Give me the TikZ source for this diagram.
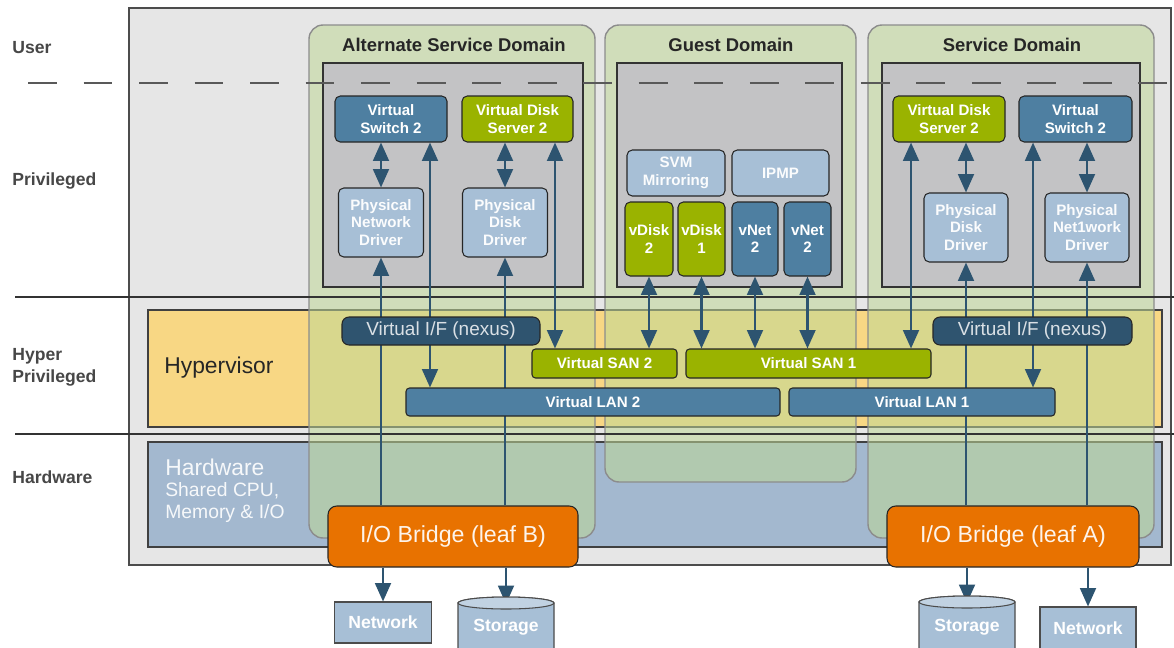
\documentclass[tikz,border=0pt]{standalone}
\usepackage{fontspec}
\setmainfont{Liberation Sans}
\usetikzlibrary{arrows.meta}
\definecolor{panelgray}{HTML}{E6E6E6}
\definecolor{hypyel}{HTML}{F8D784}
\definecolor{hwblue}{HTML}{A3B8CF}
\definecolor{domgreen}{RGB}{190,215,150}
\definecolor{innergray}{HTML}{C3C3C5}
\definecolor{vblue}{HTML}{4E7FA1}
\definecolor{nexblue}{HTML}{2F546F}
\definecolor{vgreen}{HTML}{9AB300}
\definecolor{lblue}{HTML}{A7BFD6}
\definecolor{orng}{HTML}{E87200}
\definecolor{arrblue}{HTML}{2D5470}
\pgfdeclarelayer{bgl}
\pgfdeclarelayer{midl}
\pgfsetlayers{bgl,midl,main}
\begin{document}
\begin{tikzpicture}[x=0.02cm,y=-0.02cm,
  wh/.style 2 args={minimum width=#1*0.02cm, minimum height=#2*0.02cm},
  box/.style={draw=black!85, line width=0.6pt, rounded corners=3pt, inner sep=0pt, align=center, text=white, font=\fontsize{8.6}{10}\selectfont\bfseries},
  bluebox/.style={box, fill=vblue},
  greenbox/.style={box, fill=vgreen},
  lightbox/.style={box, fill=lblue, text=white!96!lblue},
  nexbox/.style={box, fill=nexblue, rounded corners=4pt, text=white!82!nexblue, font=\fontsize{10.8}{12}\selectfont},
  barblue/.style={box, fill=vblue, rounded corners=2pt},
  bargreen/.style={box, fill=vgreen, rounded corners=2pt},
  bridge/.style={box, fill=orng, rounded corners=5pt, font=\fontsize{13.2}{15}\selectfont, text=white!92!orng},
  devbox/.style={draw=black!70, line width=0.6pt, fill=lblue, text=white, inner sep=0pt, font=\fontsize{10}{12}\selectfont\bfseries},
  cylbody/.style={draw=black!70, line width=0.6pt, fill=lblue},
  cyltop/.style={draw=black!70, line width=0.6pt, fill=lblue!70!white},
  stortext/.style={text=white, inner sep=0pt, font=\fontsize{10}{12}\selectfont\bfseries},
  dombox/.style={draw=black!45, line width=0.8pt, fill=domgreen, fill opacity=0.55, rounded corners=8pt},
  innerbox/.style={draw=black!80, line width=0.7pt, fill=innergray},
  title/.style={font=\fontsize{10.5}{12}\selectfont\bfseries, text=black!85},
  lab/.style={font=\fontsize{10}{12.5}\selectfont\bfseries, text=black!72, anchor=west, align=left, inner sep=0pt},
  tip/.tip={Triangle[width=9pt,length=10.5pt]},
  arr/.style={draw=arrblue, line width=1.4pt, -tip},
  darr/.style={draw=arrblue, line width=1.4pt, tip-tip},
]
\useasboundingbox (0,0) rectangle (1174,647);
\begin{pgfonlayer}{bgl}
\fill[white] (0,0) rectangle (1174,647);
\draw[draw=black!70, fill=panelgray, line width=0.7pt] (129,8) rectangle (1171,565);
\draw[fill=hypyel, draw=black!75, line width=0.7pt] (148,310) rectangle (1162,427);
\draw[fill=hwblue, draw=black!75, line width=0.7pt] (148,442) rectangle (1162,547);
\draw[dombox] (309,25) rectangle (595,538);
\draw[dombox] (605,25) rectangle (856,482);
\draw[dombox] (868,25) rectangle (1154,538);
\draw[black!80, line width=0.7pt] (15,297) -- (1174,297);
\draw[black!80, line width=0.7pt] (15,434) -- (1174,434);
\draw[innerbox] (323,63) rectangle (583,287);
\draw[innerbox] (617,63) rectangle (842,287);
\draw[innerbox] (882,63) rectangle (1140,287);
\draw[black!65, line width=1.1pt, dash pattern=on 16.44pt off 15.16pt] (28,83) -- (1174,83);
\end{pgfonlayer}

% left labels
\node[lab] (lUser) at (12,48) {User};
\node[lab] (lPriv) at (12,181) {Privileged};
\node[lab] (lHyp) at (12,367) {Hyper\\Privileged};
\node[lab] (lHw) at (12,477) {Hardware};

\node[anchor=west, inner sep=0pt, font=\fontsize{13}{15}\selectfont, text=black!85] (hyp) at (164,368) {Hypervisor};
\node[anchor=west, inner sep=0pt, font=\fontsize{13}{15}\selectfont, text=white!90!hwblue] (hw1) at (165,467) {Hardware};
\node[anchor=west, inner sep=0pt, font=\fontsize{11}{13}\selectfont, text=white!90!hwblue] (hw2) at (165,491) {Shared CPU,};
\node[anchor=west, inner sep=0pt, font=\fontsize{11}{13}\selectfont, text=white!90!hwblue] (hw3) at (165,513) {Memory \& I/O};

% titles
\node[title] (tAlt) at (454,45) {Alternate Service Domain};
\node[title] (tGuest) at (731,45) {Guest Domain};
\node[title] (tServ) at (1012,45) {Service Domain};

% alternate service domain
\node[bluebox, wh={112}{46}] (vswA) at (391,119) {Virtual\\Switch 2};
\node[greenbox, wh={111}{46}] (vdsA) at (517.5,119) {Virtual Disk\\Server 2};
\node[lightbox, wh={85}{69}] (pndA) at (381,222.5) {Physical\\Network\\Driver};
\node[lightbox, wh={85}{69}] (pddA) at (505,222.5) {Physical\\Disk\\Driver};

% guest domain
\node[lightbox, wh={98}{46}] (svm) at (676,173) {SVM\\Mirroring};
\node[lightbox, wh={97}{46}] (ipmp) at (780.5,173) {IPMP};
\node[greenbox, wh={48}{74}] (vd2) at (649,239) {vDisk\\2};
\node[greenbox, wh={47}{74}] (vd1) at (701.5,239) {vDisk\\1};
\node[bluebox, wh={46}{74}] (vn2a) at (755,239) {vNet\\2};
\node[bluebox, wh={47}{74}] (vn2b) at (807.5,239) {vNet\\2};

% service domain
\node[greenbox, wh={112}{46}] (vdsS) at (949,119) {Virtual Disk\\Server 2};
\node[bluebox, wh={113}{46}] (vswS) at (1075.5,119) {Virtual\\Switch 2};
\node[lightbox, wh={84}{69}] (pddS) at (966,227.5) {Physical\\Disk\\Driver};
\node[lightbox, wh={84}{69}] (pnetS) at (1087,227.5) {Physical\\Net1work\\Driver};

% hypervisor level
\node[nexbox, wh={198}{28}] (nexA) at (441,331) {Virtual I/F (nexus)};
\node[nexbox, wh={199}{28}] (nexS) at (1032.5,331) {Virtual I/F (nexus)};
\node[bargreen, wh={145}{29}] (san2) at (604.5,363.5) {Virtual SAN 2};
\node[bargreen, wh={245}{29}] (san1) at (808.5,363.5) {Virtual SAN 1};
\node[barblue, wh={374}{28}] (vlan2) at (593,402) {Virtual LAN 2};
\node[barblue, wh={266}{28}] (vlan1) at (922,402) {Virtual LAN 1};

% bridges
\node[bridge, wh={250}{61}] (brB) at (453,536.5) {I/O Bridge (leaf B)};
\node[bridge, wh={252}{61}] (brA) at (1013,536.5) {I/O Bridge (leaf A)};

% devices
\node[devbox, wh={97}{41}] (netB) at (383,622.5) {Network};
\node[devbox, wh={96}{42}] (netA) at (1088,628) {Network};
\path[cylbody] (458,603) -- (458,670) -- (554,670) -- (554,603) arc[start angle=0, end angle=180, x radius=0.96cm, y radius=0.12cm] -- cycle;
\draw[cyltop] (506,603) ellipse [x radius=0.96cm, y radius=0.12cm];
\node[stortext] (stoB) at (506,627) {Storage};
\coordinate (stoBtop) at (506,604);
\path[cylbody] (919,602) -- (919,670) -- (1015,670) -- (1015,602) arc[start angle=0, end angle=180, x radius=0.96cm, y radius=0.12cm] -- cycle;
\draw[cyltop] (967,602) ellipse [x radius=0.96cm, y radius=0.12cm];
\node[stortext] (stoA) at (967,627) {Storage};
\coordinate (stoAtop) at (967,603);

\begin{pgfonlayer}{midl}
% alternate
\draw[darr] (vswA.south -| pndA.north) -- (pndA.north);
\draw[darr] ([xshift=0.78cm]vswA.south) -- ([xshift=0.78cm]vswA.south |- vlan2.north);
\draw[darr] (vdsA.south -| pddA.north) -- (pddA.north);
\draw[darr] ([xshift=0.75cm]vdsA.south) -- ([xshift=0.75cm]vdsA.south |- san2.north);
\draw[arr] (brB.north -| pndA.south) -- (pndA.south);
\draw[arr] (brB.north -| pddA.south) -- (pddA.south);
% guest
\draw[darr] (vd2.south) -- (vd2.south |- san2.north);
\draw[darr] (vd1.south) -- (vd1.south |- san1.north);
\draw[darr] (vn2a.south) -- (vn2a.south |- san1.north);
\draw[darr] (vn2b.south) -- (vn2b.south |- san1.north);
% service
\draw[darr] (vdsS.south -| pddS.north) -- (pddS.north);
\draw[darr] (vswS.south -| pnetS.north) -- (pnetS.north);
\draw[darr] ([xshift=-0.76cm]vdsS.south) -- ([xshift=-0.76cm]vdsS.south |- san1.north);
\draw[darr] ([xshift=-0.85cm]vswS.south) -- ([xshift=-0.85cm]vswS.south |- vlan1.north);
\draw[arr] (brA.north -| pddS.south) -- (pddS.south);
\draw[arr] (brA.north -| pnetS.south) -- (pnetS.south);
% to devices
\draw[arr] (brB.south -| netB.north) -- (netB.north);
\draw[arr] (brB.south -| stoBtop) -- (stoBtop);
\draw[arr] (brA.south -| stoAtop) -- (stoAtop);
\draw[arr] (brA.south -| netA.north) -- (netA.north);
\end{pgfonlayer}
\end{tikzpicture}
\end{document}
